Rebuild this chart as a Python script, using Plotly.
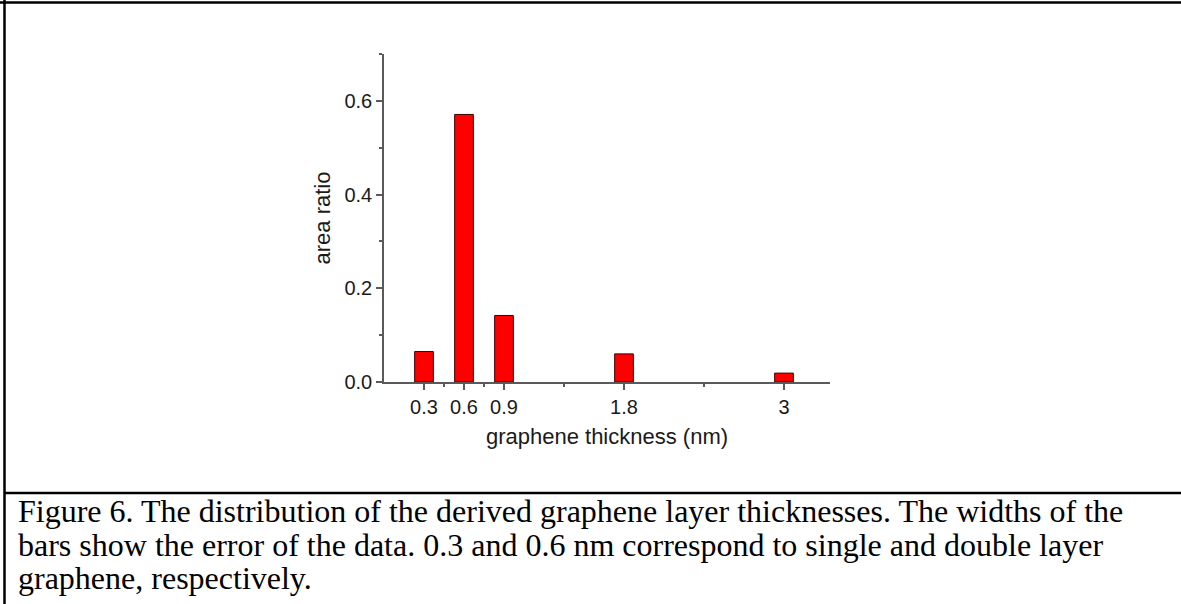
import plotly.graph_objects as go

# ---- data ----
thickness_nm = [0.3, 0.6, 0.9, 1.8, 3.0]
area_ratio = [0.065, 0.571, 0.142, 0.060, 0.019]
bar_widths = [0.14, 0.14, 0.14, 0.14, 0.14]
x_tick_vals = [0.3, 0.6, 0.9, 1.8, 3.0]
x_tick_text = ["0.3", "0.6", "0.9", "1.8", "3"]
x_minor_vals = [0.45, 0.75, 1.35, 2.4]
y_tick_vals = [0.0, 0.2, 0.4, 0.6]
y_tick_text = ["0.0", "0.2", "0.4", "0.6"]
y_minor_vals = [0.1, 0.3, 0.5, 0.7]
caption_lines = [
    "Figure 6. The distribution of the derived graphene layer thicknesses. The widths of the",
    "bars show the error of the data. 0.3 and 0.6 nm correspond to single and double layer",
    "graphene, respectively.",
]

W, H = 1181, 604
L, R, T, B = 384, 351, 54, 222
PW, PH = W - L - R, H - T - B


def px(x):
    return (x - L) / PW


def py(y):
    return (H - B - y) / PH


AXC = "#5a5a5a"
sans = "Liberation Sans, Arial, sans-serif"
serif = "Liberation Serif, Times New Roman, serif"

fig = go.Figure()
fig.add_trace(go.Bar(
    x=thickness_nm, y=area_ratio, width=bar_widths,
    marker=dict(color="#ff0000", line=dict(color="#3a0000", width=1)),
    showlegend=False,
))

fig.update_layout(
    width=W, height=H,
    margin=dict(l=L, r=R, t=T, b=B, pad=0),
    paper_bgcolor="white", plot_bgcolor="white",
    font=dict(family=sans, color="#1a1a1a"),
    xaxis=dict(
        range=[0, 3.345], showgrid=False, zeroline=False,
        showline=True, linecolor=AXC, linewidth=1.5,
        tickmode="array", tickvals=x_tick_vals, ticktext=x_tick_text,
        ticks="outside", ticklen=6, tickwidth=1.5, tickcolor=AXC,
        tickfont=dict(size=20, family=sans, color="#1a1a1a"),
        minor=dict(tickmode="array", tickvals=x_minor_vals, ticks="outside",
                   ticklen=3, tickwidth=1.5, tickcolor=AXC, showgrid=False),
        title=dict(text="graphene thickness (nm)", font=dict(size=22, family=sans, color="#1a1a1a"),
                   standoff=12),
    ),
    yaxis=dict(
        range=[0, 0.7], showgrid=False, zeroline=False,
        showline=True, linecolor=AXC, linewidth=1.5,
        tickmode="array", tickvals=y_tick_vals, ticktext=y_tick_text,
        ticks="outside", ticklen=6, tickwidth=1.5, tickcolor=AXC,
        tickfont=dict(size=20, family=sans, color="#1a1a1a"),
        minor=dict(tickmode="array", tickvals=y_minor_vals, ticks="outside",
                   ticklen=3, tickwidth=1.5, tickcolor=AXC, showgrid=False),
        title=dict(text="area ratio", font=dict(size=22, family=sans, color="#1a1a1a"),
                   standoff=8),
    ),
)

# frame lines: left, top, separator above caption
shapes = [
    dict(type="line", xref="paper", yref="paper", x0=px(4.5), x1=px(4.5), y0=py(0), y1=py(H),
         line=dict(color="black", width=2.5)),
    dict(type="line", xref="paper", yref="paper", x0=px(0), x1=px(W), y0=py(2.5), y1=py(2.5),
         line=dict(color="black", width=2.5)),
    dict(type="line", xref="paper", yref="paper", x0=px(4.5), x1=px(W), y0=py(493), y1=py(493),
         line=dict(color="black", width=2.5)),
]
fig.update_layout(shapes=shapes)

baselines = [523, 557, 590]
for line, yb in zip(caption_lines, baselines):
    fig.add_annotation(
        text=line, xref="paper", yref="paper", x=px(16), y=py(yb + 8),
        xanchor="left", yanchor="bottom", showarrow=False,
        font=dict(family=serif, size=32, color="black"),
    )

fig.write_html("out.html")
